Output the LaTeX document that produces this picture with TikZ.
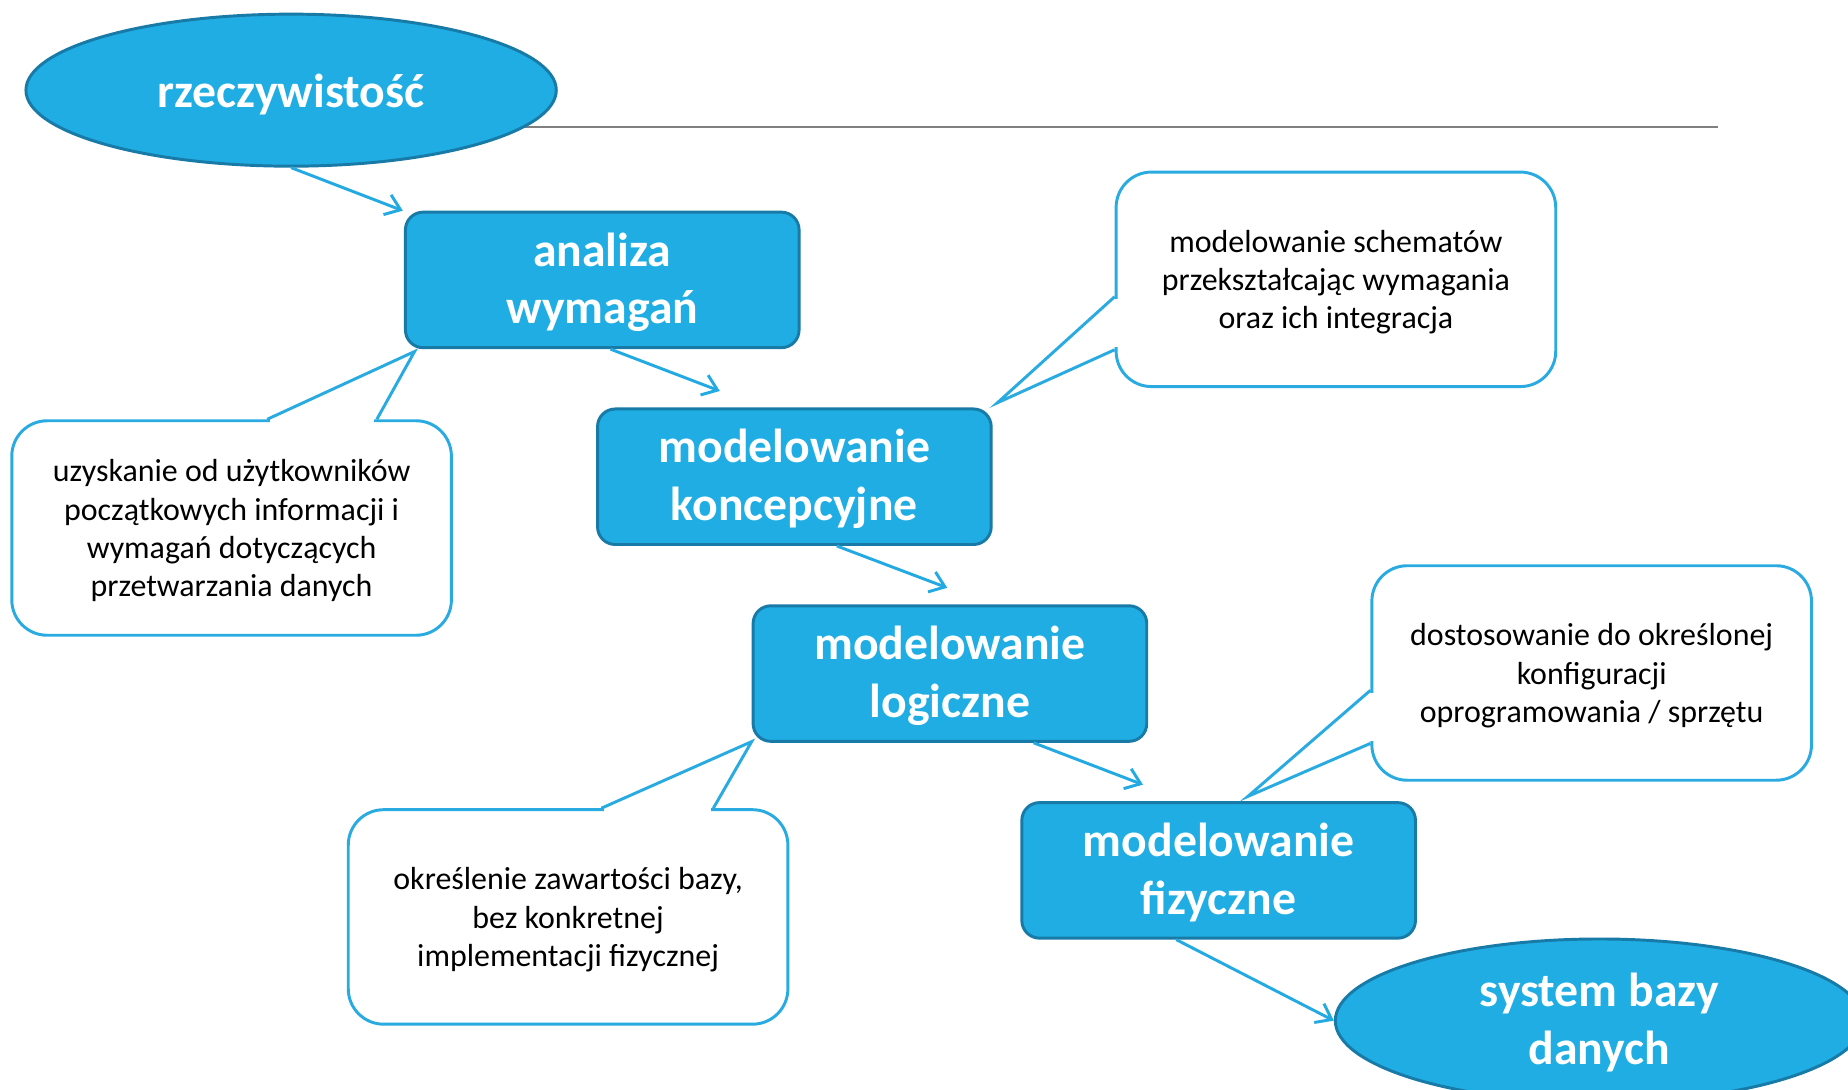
\documentclass[tikz,border=0pt]{standalone}
\usepackage{fontspec}
\setmainfont{Carlito}
\usetikzlibrary{arrows.meta,shapes.geometric,calc}
\definecolor{boxfill}{RGB}{31,173,227}
\definecolor{boxedge}{RGB}{24,122,166}
\definecolor{calledge}{RGB}{41,171,226}
\definecolor{arrowc}{RGB}{36,170,226}
\definecolor{rulec}{RGB}{128,128,128}
\newcommand{\mylines}[2][0pt]{\raisebox{#1}[\height][\depth]{\begin{tabular}{@{}c@{}}#2\end{tabular}}}
\begin{document}
\begin{tikzpicture}[x=1pt,y=-1pt,
  stagebox/.style={draw=boxedge, line width=2.5pt, fill=boxfill, rounded corners=15pt,
    minimum width=334pt, minimum height=115pt, inner sep=0pt, text=white,
    font=\fontsize{40.5}{49}\selectfont\bfseries},
  endell/.style={ellipse, draw=boxedge, line width=2.5pt, fill=boxfill, inner sep=0pt,
    text=white, font=\fontsize{40.5}{49}\selectfont\bfseries},
  callbox/.style={draw=calledge, line width=2.5pt, fill=white, rounded corners=30pt,
    minimum width=373pt, minimum height=182pt, inner sep=0pt,
    font=\fontsize{27.1}{32.5}\selectfont},
  flow/.style={draw=arrowc, line width=2.5pt, -{Straight Barb[length=12pt,width=18pt,line width=2.5pt]}},
  pointer/.style={draw=calledge, line width=2.5pt, line join=miter}]
\useasboundingbox (0,0) rectangle (1568,924);

% horizontal rule
\coordinate (ruleA) at (440,108);
\coordinate (ruleB) at (1458,108);
\draw[rulec, line width=1.5pt] (ruleA) -- (ruleB);

% main flow
\node[endell, minimum width=450pt, minimum height=129pt] (real) at (247,76.5) {\mylines[-5pt]{rzeczywistość}};
\node[stagebox] (analiza) at (511,237.5) {\mylines[-3pt]{analiza\\wymagań}};
\node[stagebox] (konc) at (674,404.5) {\mylines[-3pt]{modelowanie\\koncepcyjne}};
\node[stagebox] (log) at (806,571.5) {\mylines[-3pt]{modelowanie\\logiczne}};
\node[stagebox] (fiz) at (1034,738.5) {\mylines[-3pt]{modelowanie\\fizyczne}};
\node[endell, minimum width=448pt, minimum height=132pt] (sys) at (1357,866) {\mylines[-3pt]{system bazy\\danych}};

\draw[flow] (real.south) -- ($(analiza.north west)+(-1,0)$);
\draw[flow] ($(analiza.south)+(7,0)$) -- ($(konc.north west)+(105,-14)$);
\draw[flow] ($(konc.south)+(36,0)$) -- ($(log.north west)+(166,-14)$);
\draw[flow] ($(log.south)+(71,0)$) -- ($(fiz.north west)+(104,-14)$);
\draw[flow] ($(fiz.south)+(-36,0)$) -- (sys.west);

% callouts
\node[callbox] (c1) at (196.5,448) {\mylines[-3pt]{uzyskanie od użytkowników\\początkowych informacji i\\wymagań dotyczących\\przetwarzania danych}};
\node[callbox] (c2) at (1133.5,237) {\mylines[-3pt]{modelowanie schematów\\przekształcając wymagania\\oraz ich integracja}};
\node[callbox] (c3) at (482,778) {\mylines[-3pt]{określenie zawartości bazy,\\bez konkretnej\\implementacji fizycznej}};
\node[callbox] (c4) at (1350.5,571) {\mylines[-3pt]{dostosowanie do określonej\\konfiguracji\\oprogramowania / sprzętu}};

% callout pointers (top edge)
\fill[white] ($(c1.north west)+(220,-3)$) rectangle ($(c1.north west)+(309,3)$);
\draw[pointer] ($(c1.north west)+(218,0)$) -- ($(analiza.south west)+(9,2)$) -- ($(c1.north west)+(311,0)$);
\fill[white] ($(c3.north west)+(218,-3)$) rectangle ($(c3.north west)+(309,3)$);
\draw[pointer] ($(c3.north west)+(216,0)$) -- ($(log.south west)+(0,-1)$) -- ($(c3.north west)+(311,0)$);
% callout pointers (left edge)
\fill[white] ($(c2.north west)+(-3,109)$) rectangle ($(c2.north west)+(3,150)$);
\draw[pointer] ($(c2.north west)+(0,107)$) -- ($(konc.north east)+(4,-4)$) -- ($(c2.north west)+(0,152)$);
\fill[white] ($(c4.north west)+(-3,109)$) rectangle ($(c4.north west)+(3,150)$);
\draw[pointer] ($(c4.north west)+(0,107)$) -- ($(fiz.north west)+(193,-4)$) -- ($(c4.north west)+(0,152)$);
\end{tikzpicture}
\end{document}
